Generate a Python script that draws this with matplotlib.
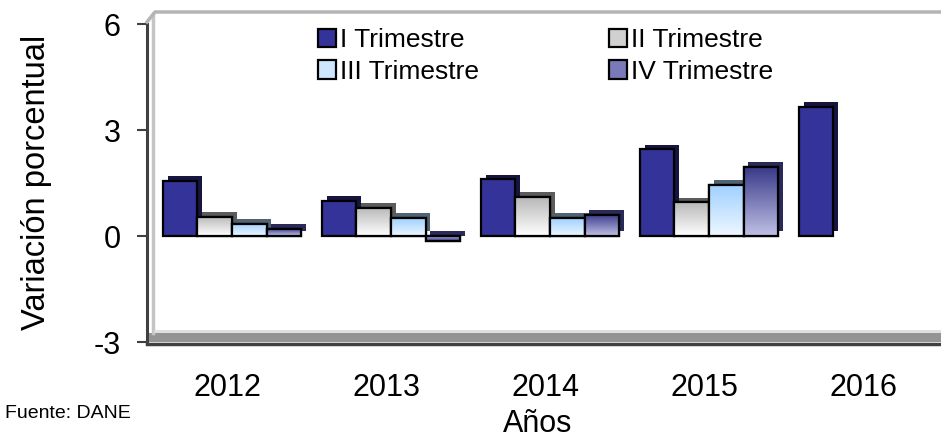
import numpy as np
import matplotlib
matplotlib.use('Agg')
import matplotlib.pyplot as plt
import matplotlib.patheffects as pe
from matplotlib.colors import LinearSegmentedColormap
from matplotlib.lines import Line2D
from matplotlib.patches import Rectangle, Patch

years = ['2012', '2013', '2014', '2015', '2016']
trim_1 = [1.55, 1.0, 1.6, 2.45, 3.65]
trim_2 = [0.55, 0.8, 1.1, 0.95, np.nan]
trim_3 = [0.35, 0.5, 0.5, 1.45, np.nan]
trim_4 = [0.2, -0.15, 0.6, 1.95, np.nan]
labels = ['I Trimestre', 'II Trimestre', 'III Trimestre', 'IV Trimestre']

plt.rcParams['font.family'] = ['Liberation Sans', 'DejaVu Sans']
plt.rcParams['axes.unicode_minus'] = False

W, H = 941, 440
fig = plt.figure(figsize=(W / 100, H / 100), dpi=100)


def fx(px):
    return px / W


def fy(py):
    return 1 - py / H


ax = fig.add_axes([fx(147), fy(342), fx(941) - fx(147), fy(24) - fy(342)])
ax.set_facecolor('none')

# back wall and floor (3d look)
fig.add_artist(Line2D([fx(153), fx(153)], [fy(333), fy(14)], color='#c4c4c4', lw=2.5))
fig.add_artist(Line2D([fx(147), fx(155), fx(941)], [fy(22), fy(12), fy(12)], color='#b4b4b4', lw=2.5))
fig.add_artist(Line2D([fx(155), fx(941)], [fy(331), fy(331)], color='#dedede', lw=2))
fig.add_artist(Rectangle((fx(149), fy(342)), fx(941) - fx(149), fy(333) - fy(342),
                         transform=fig.transFigure, color='#949494', lw=0))
fig.add_artist(Line2D([fx(147), fx(941)], [fy(344), fy(344)], color='#404040', lw=2.5))

x = np.arange(len(years))
w = 0.217
series = [trim_1, trim_2, trim_3, trim_4]
faces = ['#333399', '#d0d0d0', '#cfe6ff', '#7a7ab8']
sides = ['#15153f', '#5c5c5c', '#4f6373', '#2a2a5a']
grads = [None, ('#ffffff', '#b8b8b8'), ('#eef7ff', '#9fd0ff'), ('#c0c0e6', '#3a3a8a')]

for k, vals in enumerate(series):
    z = 2 + k
    bars = ax.bar(x + (k - 1.5) * w, vals, w, color=faces[k], edgecolor='black',
                  linewidth=1.6, zorder=z)
    for b in bars:
        b.set_path_effects([pe.SimplePatchShadow(offset=(3.5, 3.5), shadow_rgbFace=sides[k], alpha=1),
                            pe.Normal()])
        if grads[k] is not None and not np.isnan(b.get_height()):
            bx, by = b.get_xy()
            bw, bh = b.get_width(), b.get_height()
            cmap = LinearSegmentedColormap.from_list('g%d' % k, [grads[k][0], grads[k][1]])
            im = ax.imshow(np.linspace(0, 1, 64).reshape(-1, 1), extent=[bx, bx + bw, by, by + bh],
                           origin='lower', cmap=cmap, aspect='auto', zorder=z + 0.1)
            im.set_clip_path(b)
            ax.add_patch(Rectangle((bx, by), bw, bh, fill=False, edgecolor='black',
                                   linewidth=1.6, zorder=z + 0.2))

ax.set_xlim((147 - 232) / 159, (941 - 232) / 159)
ax.set_ylim(-3, 6)
ax.set_yticks([-3, 0, 3, 6])
ax.set_xticks(x - 0.03)
ax.set_xticklabels(years)

for s in ['top', 'right', 'bottom']:
    ax.spines[s].set_visible(False)
ax.spines['left'].set_color('#404040')
ax.spines['left'].set_linewidth(2.2)
ax.tick_params(axis='y', length=7, width=1.5, color='#404040', labelsize=22, pad=12)
ax.tick_params(axis='x', length=0, labelsize=22, pad=22)

ax.set_ylabel('Variación porcentual', fontsize=23.5)
ax.yaxis.set_label_coords((52 - 147) / 794, (342 - 182) / 318)
ax.set_xlabel('Años', fontsize=22)
ax.xaxis.set_label_coords((538 - 147) / 794, (342 - 424) / 318)
ax.xaxis.label.set_va('center')

fig.text(fx(5), fy(413), 'Fuente: DANE', fontsize=14, va='center', ha='left')

handles = [Patch(facecolor=faces[i], edgecolor='black', linewidth=1.6) for i in range(4)]
order = [0, 2, 1, 3]
fig.legend([handles[i] for i in order], [labels[i] for i in order], ncol=2,
           loc='upper left', bbox_to_anchor=(fx(318), fy(28)), frameon=False,
           fontsize=19, handlelength=0.7, handleheight=0.7, handletextpad=0.15,
           columnspacing=4.9, labelspacing=0.3, borderpad=0, borderaxespad=0)

fig.savefig('out.png', dpi=100)
